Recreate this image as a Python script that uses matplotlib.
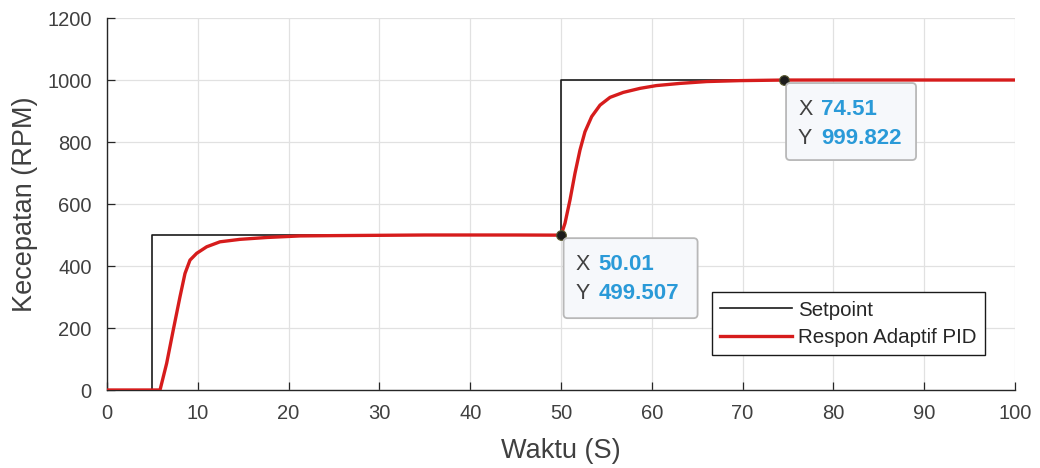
import matplotlib
matplotlib.use("Agg")
import matplotlib.pyplot as plt
from matplotlib.patches import FancyBboxPatch
from matplotlib.transforms import ScaledTranslation

plt.rcParams['font.family'] = ['Liberation Sans', 'DejaVu Sans']

# Setpoint steps (held until the next time)
setpoint_t = [0, 5, 50, 100]
setpoint_v = [0, 500, 1000, 1000]

# Measured speed response of the adaptive PID controller
response_t = [0, 5.84, 6.57, 7.30, 8.04, 8.59, 9.14, 9.88, 10.98, 12.44, 14.65,
              17.6, 21.26, 25, 30, 35, 40, 45, 50.01,
              50.44, 50.99, 51.54, 52.09, 52.64, 53.38, 54.3, 55.4, 56.86,
              58.7, 60.5, 63.1, 66.05, 69.7, 74.51, 80, 90, 100]
response_v = [0, 0, 86, 194, 301, 376, 419, 441, 462, 478, 486,
              492, 497, 498, 499, 500, 500, 500, 499.507,
              538, 613, 699, 774, 833, 882, 919, 944, 960,
              973, 982, 989, 995, 998, 999.822, 1000, 1000, 1000]

# Data tips shown on the response curve
tip_x = [50.01, 74.51]
tip_y = [499.507, 999.822]
tip_x_text = ["50.01", "74.51"]
tip_y_text = ["499.507", "999.822"]

x_ticks = list(range(0, 101, 10))
y_ticks = list(range(0, 1201, 200))

text_gray = '#404040'
fig = plt.figure(figsize=(10.40, 4.68), dpi=100)
ax = fig.add_axes([107 / 1040, 78 / 468, 908 / 1040, 372 / 468])

ax.plot(setpoint_t, setpoint_v, drawstyle='steps-post', color='#1a1a1a',
        lw=1.2, label='Setpoint', zorder=3)
ax.plot(response_t, response_v, color='#d61c1c', lw=2.4,
        label='Respon Adaptif PID', zorder=4)

ax.set_xlim(0, 100)
ax.set_ylim(0, 1200)
ax.set_xticks(x_ticks)
ax.set_yticks(y_ticks)
ax.grid(True, color='#e1e1e1', lw=0.9)
ax.set_axisbelow(True)
for side in ('top', 'right'):
    ax.spines[side].set_visible(False)
for side in ('left', 'bottom'):
    ax.spines[side].set_color('#262626')
    ax.spines[side].set_linewidth(1.0)
ax.tick_params(direction='in', length=5.5, width=0.9, colors='#262626',
               labelsize=14.5, labelcolor=text_gray)
ax.tick_params(axis='x', pad=10)
ax.tick_params(axis='y', pad=11)

ax.set_xlabel('Waktu (S)', fontsize=19.5, color=text_gray, labelpad=11)
ax.set_ylabel('Kecepatan (RPM)', fontsize=19.5, color=text_gray, labelpad=7)

leg = ax.legend(loc='lower right', bbox_to_anchor=(0.967, 0.094),
                borderaxespad=0, fancybox=False, framealpha=1,
                edgecolor='#1a1a1a', fontsize=14.8, handlelength=3.5,
                handletextpad=0.3, labelspacing=0.4, borderpad=0.4)
leg.get_frame().set_linewidth(1.0)
for txt in leg.get_texts():
    txt.set_color('#262626')

# Data tip markers and labels
ax.plot(tip_x, tip_y, 'o', ms=7, mfc='#1c1c1c', mec='#5a5a30', mew=0.8,
        zorder=6, clip_on=False)


def offset(dx_px, dy_px):
    return ax.transData + ScaledTranslation(dx_px / 100, dy_px / 100,
                                            fig.dpi_scale_trans)


box_sizes = [(134, 80), (130, 77)]
for xv, yv, xs, ys, (bw, bh) in zip(tip_x, tip_y, tip_x_text, tip_y_text,
                                    box_sizes):
    px, py = ax.transData.transform((xv, yv))
    box = FancyBboxPatch((px / 100 + 0.025, py / 100 - 0.03 - bh / 100),
                         bw / 100, bh / 100,
                         boxstyle='round,pad=0,rounding_size=0.04',
                         transform=fig.dpi_scale_trans,
                         fc='#f6f8fb', ec='#b8b8b8', lw=1.3, zorder=7,
                         clip_on=False)
    ax.add_patch(box)
    for dy, lab, val in ((-29.5, 'X', xs), (-58, 'Y', ys)):
        ax.text(xv, yv, lab, transform=offset(14.5, dy), fontsize=15.5,
                color=text_gray, ha='left', va='center', zorder=8,
                clip_on=False)
        ax.text(xv, yv, val, transform=offset(37.5, dy), fontsize=16,
                color='#2a9ad8', fontweight='bold', ha='left', va='center',
                zorder=8, clip_on=False)

fig.savefig('out.png', dpi=100)
